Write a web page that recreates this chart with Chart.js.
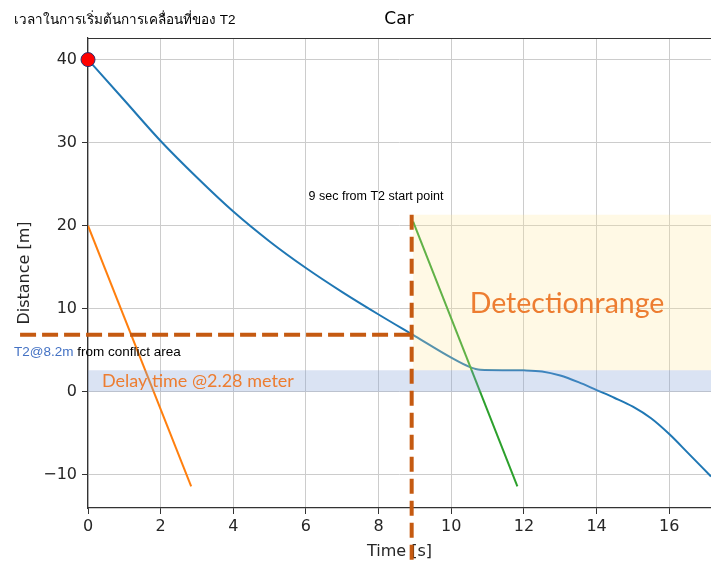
<!DOCTYPE html>
<html><head><meta charset="utf-8">
<script src="https://cdn.jsdelivr.net/npm/chart.js@4"></script>
<style>html,body{margin:0;padding:0;background:#fff}#wrap{width:711px;height:567px;position:relative}</style>
</head><body><div id="wrap"><canvas id="c" width="711" height="567"></canvas></div>
<script>
// ---- data ----
const carTime = [0, 1, 2, 3, 4, 5, 6, 7, 8, 9, 10, 10.5, 10.8, 11.5, 12, 12.5, 13, 13.5, 14, 14.5, 15, 15.5, 16, 16.5, 17.15];
const carDist = [40, 35.1, 30.2, 25.8, 21.7, 18.1, 14.9, 12.0, 9.3, 6.7, 4.1, 3.0, 2.65, 2.6, 2.58, 2.45, 1.95, 1.15, 0.2, -0.75, -1.8, -3.2, -5.1, -7.3, -10.2];
const t1Time = [0, 2.84];
const t1Dist = [20, -11.4];
const t2Time = [8.95, 11.82];
const t2Dist = [20.5, -11.4];
const startTime = [0];
const startDist = [40];
const hDashTime = [-1.87, 8.91];
const hDashDist = [6.87, 6.87];
const vDashTime = [8.91, 8.91];
const vDashDist = [21.3, -20.5];
const detectTime = [8.95, 17.15];
const detectTop = [21.3, 21.3];
const detectBottom = 2.6;
const delayTime = [0, 17.15];
const delayTop = [2.6, 2.6];
const delayBottom = 0;
const xTicks = [0, 2, 4, 6, 8, 10, 12, 14, 16];
const yTicks = [-10, 0, 10, 20, 30, 40];
const xRange = [0, 17.15];
const yRange = [-14, 42.6];

const pts = (xs, ys) => xs.map((x, i) => ({x, y: ys[i]}));
const fmt = v => v < 0 ? '\u2212' + Math.abs(v) : String(v);

const textPlugin = {
  id: 'texts',
  afterDraw(chart) {
    const ctx = chart.ctx, a = chart.chartArea;
    ctx.save();
    // top spine
    ctx.strokeStyle = '#333'; ctx.lineWidth = 1.2;
    ctx.beginPath(); ctx.moveTo(a.left, a.top + 0.5); ctx.lineTo(a.right, a.top + 0.5); ctx.stroke();
    ctx.textBaseline = 'middle';
    ctx.fillStyle = '#000';
    ctx.textAlign = 'left';
    ctx.font = '13.5px "Liberation Sans", sans-serif';
    ctx.fillText('เวลาในการเริ่มต้นการเคลื่อนที่ของ T2', 14, 20);
    ctx.textAlign = 'center';
    ctx.font = '17px "DejaVu Sans", sans-serif';
    ctx.fillText('Car', 399, 20);
    ctx.font = '12.5px "Liberation Sans", sans-serif';
    ctx.fillText('9 sec from T2 start point', 376, 197);
    ctx.textAlign = 'left';
    ctx.font = '13.5px "Liberation Sans", sans-serif';
    ctx.fillStyle = '#4472C4';
    ctx.fillText('T2@8.2m', 14, 352);
    const w = ctx.measureText('T2@8.2m').width;
    ctx.fillStyle = '#000';
    ctx.fillText(' from conflict area', 14 + w, 352);
    ctx.fillStyle = '#ED7D31';
    ctx.font = '18px Lato, "Open Sans", sans-serif';
    ctx.fillText('Delay time @2.28 meter', 102, 381);
    ctx.textAlign = 'center';
    ctx.font = '28.5px Lato, "Open Sans", sans-serif';
    ctx.fillText('Detectionrange', 567, 304);
    ctx.restore();
  }
};

const tickFont = {family: 'DejaVu Sans', size: 16};

new Chart(document.getElementById('c'), {
  type: 'scatter',
  data: {
    datasets: [
      {label: 'car', data: pts(carTime, carDist), showLine: true, borderColor: '#1f77b4', borderWidth: 2, pointRadius: 0, cubicInterpolationMode: 'monotone', order: 6},
      {label: 'T1', data: pts(t1Time, t1Dist), showLine: true, borderColor: '#ff7f0e', borderWidth: 2, pointRadius: 0, order: 5},
      {label: 'T2', data: pts(t2Time, t2Dist), showLine: true, borderColor: '#2ca02c', borderWidth: 2, pointRadius: 0, order: 5},
      {label: 'detection', data: pts(detectTime, detectTop), showLine: true, borderWidth: 0, borderColor: 'rgba(0,0,0,0)', pointRadius: 0, fill: {value: detectBottom}, backgroundColor: 'rgba(255,230,153,0.25)', order: 4},
      {label: 'delay', data: pts(delayTime, delayTop), showLine: true, borderWidth: 0, borderColor: 'rgba(0,0,0,0)', pointRadius: 0, fill: {value: delayBottom}, backgroundColor: 'rgba(132,162,215,0.3)', order: 3},
      {label: 'hdash', data: pts(hDashTime, hDashDist), showLine: true, borderColor: '#C55A11', borderWidth: 4, borderDash: [16, 6], pointRadius: 0, clip: false, order: 1},
      {label: 'vdash', data: pts(vDashTime, vDashDist), showLine: true, borderColor: '#C55A11', borderWidth: 4, borderDash: [15, 7], pointRadius: 0, clip: false, order: 1},
      {label: 'start', data: pts(startTime, startDist), showLine: false, pointRadius: 7, pointBackgroundColor: '#ff0000', pointBorderColor: '#2b2b6b', pointBorderWidth: 1, clip: false, order: 0}
    ]
  },
  options: {
    responsive: false,
    animation: false,
    layout: {autoPadding: false, padding: {top: 38, right: 0, bottom: 0, left: 0}},
    plugins: {legend: {display: false}, tooltip: {enabled: false}, title: {display: false}},
    scales: {
      x: {
        type: 'linear', min: xRange[0], max: xRange[1],
        afterBuildTicks: s => { s.ticks = xTicks.map(v => ({value: v})); },
        afterFit: s => { s.height = 59; s.paddingLeft = 0; s.paddingRight = 0; },
        ticks: {font: tickFont, color: '#262626', padding: 3, maxRotation: 0, callback: fmt},
        grid: {color: '#cccccc', lineWidth: 1, tickLength: 6, tickColor: '#333', tickWidth: 1},
        border: {color: '#333', width: 1.2},
        title: {display: true, text: 'Time [s]', font: {family: 'DejaVu Sans', size: 16}, color: '#262626', padding: {top: 0, bottom: 6}}
      },
      y: {
        type: 'linear', min: yRange[0], max: yRange[1],
        afterBuildTicks: s => { s.ticks = yTicks.map(v => ({value: v})); },
        afterFit: s => { s.width = 88; s.paddingTop = 0; s.paddingBottom = 0; },
        ticks: {font: tickFont, color: '#262626', padding: 5, callback: fmt},
        grid: {color: '#cccccc', lineWidth: 1, tickLength: 6, tickColor: '#333', tickWidth: 1},
        border: {color: '#333', width: 1.2},
        title: {display: true, text: 'Distance [m]', font: {family: 'DejaVu Sans', size: 16}, color: '#262626', padding: {top: 15, bottom: 0}}
      }
    }
  },
  plugins: [textPlugin]
});
</script>
</body></html>
